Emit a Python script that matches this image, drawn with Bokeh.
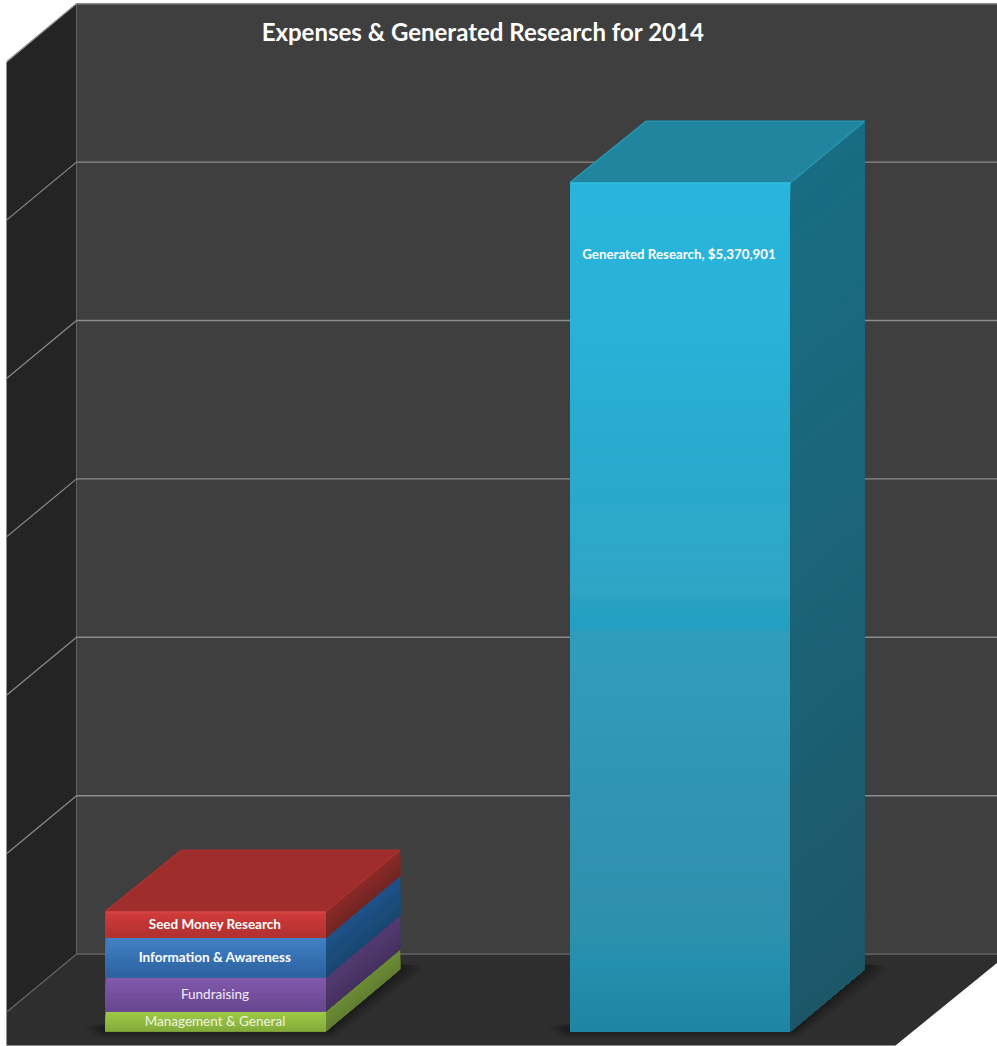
from bokeh.core.properties import value
from bokeh.embed import file_html
from bokeh.models import ColumnDataSource, Range1d
from bokeh.plotting import figure
from bokeh.resources import INLINE

# ---- chart data ----
TITLE = "Expenses & Generated Research for 2014"
EXPENSE_NAMES = ["Management & General", "Fundraising", "Information & Awareness", "Seed Money Research"]
EXPENSE_VALUES = [126500, 215000, 251000, 166500]
RESEARCH_NAME = "Generated Research"
RESEARCH_VALUE = 5370901
GRID_VALUES = [0, 1000000, 2000000, 3000000, 4000000, 5000000, 6000000]

# ---- page geometry and scales ----
W, H = 997, 1046
PX_PER_VALUE = 158.4e-6        # back wall scale
FLOOR_PX = 953.6               # screen row of value 0 on the back wall
FRONT_BASE_PX = 1030.8         # screen row of value 0 on the front plane
FRONT_PX_PER_VALUE = 849 / RESEARCH_VALUE
COL_PX = [215.25, 680]         # column centres on screen
COL_STEP = COL_PX[1] - COL_PX[0]
BAR_W_PX = 220.5
BACK_W_PX = 218.5
DEPTH_X_PX = 75.2
DEPTH_Y_PX = 62
WALL_L, WALL_R = 76, 997
SIDE_L = 6
SIDE_DROP = 58


def sx(px):
    return (px - COL_PX[0]) / COL_STEP


def sy(px):
    return (FLOOR_PX - px) / PX_PER_VALUE


def front_px(v):
    return FRONT_BASE_PX - v * FRONT_PX_PER_VALUE


def hex_rgb(c):
    return tuple(int(c[i:i + 2], 16) for i in (1, 3, 5))


def ramp(stops, t):
    for (a, ca), (b, cb) in zip(stops, stops[1:]):
        if t <= b:
            f = 0 if b == a else (t - a) / (b - a)
            ra, rb = hex_rgb(ca), hex_rgb(cb)
            return "#%02x%02x%02x" % tuple(round(x + (y - x) * f) for x, y in zip(ra, rb))
    return stops[-1][1]


p = figure(width=W, height=H, output_backend="svg", toolbar_location=None,
           x_range=Range1d(sx(0), sx(W)), y_range=Range1d(sy(H), sy(0)),
           min_border=0, background_fill_color="#ffffff", border_fill_color="#ffffff",
           outline_line_color=None)
p.axis.visible = False
p.grid.visible = False


def poly(points, color, alpha=1.0):
    p.patch([sx(a) for a, _ in points], [sy(b) for _, b in points],
            fill_color=color, fill_alpha=alpha, line_color=None)


def band(top_px, bot_px, left_top, right_top, left_bot, right_bot, stops, step=3):
    """Paint a four-sided face as stacked strips, top strip first, each running to the bottom."""
    xs, ys, cs = [], [], []
    n = max(1, int((bot_px[0] - top_px[0]) / step))
    for i in range(n):
        t = i / n
        yl = top_px[0] + (bot_px[0] - top_px[0]) * t
        yr = top_px[1] + (bot_px[1] - top_px[1]) * t
        xl = left_top + (left_bot - left_top) * t
        xr = right_top + (right_bot - right_top) * t
        xs.append([sx(xl), sx(xr), sx(right_bot), sx(left_bot)])
        ys.append([sy(yl), sy(yr), sy(bot_px[1]), sy(bot_px[0])])
        cs.append(ramp(stops, t))
    p.patches("xs", "ys", fill_color="colors", line_color=None,
              source=ColumnDataSource(dict(xs=xs, ys=ys, colors=cs)))


# ---- room: back wall, side wall, floor ----
poly([(WALL_L, 3), (WALL_R, 3), (WALL_R, FLOOR_PX), (WALL_L, FLOOR_PX)], "#3e3f3e")
poly([(SIDE_L, 62), (WALL_L, 3), (WALL_L, FLOOR_PX), (SIDE_L, 1012)], "#242424")
poly([(SIDE_L, 1012), (WALL_L, FLOOR_PX), (WALL_R, FLOOR_PX), (WALL_R, 962), (895, 1045), (SIDE_L, 1045)], "#2d2e2d")

# gridlines along the back wall and down the side wall
for v in GRID_VALUES:
    y = FLOOR_PX - v * PX_PER_VALUE
    col = "#6a6a6a" if v == 0 else "#8c8c8c"
    p.line([sx(WALL_L), sx(WALL_R)], [sy(y), sy(y)], line_color=col, line_width=1.4)
    p.line([sx(WALL_L), sx(SIDE_L)], [sy(y), sy(y + SIDE_DROP)], line_color=col, line_width=1.2)
p.line([sx(SIDE_L), sx(895)], [sy(1045.5), sy(1045.5)], line_color="#8a8a8a", line_width=1)


def floor_shadow(x0, x1):
    for d, a in [(18, 0.10), (14, 0.13), (10, 0.17), (6, 0.22), (2, 0.28)]:
        poly([(x0 - 4 - d, FRONT_BASE_PX - 4),
              (x0 - 2 - d * 0.4, FRONT_BASE_PX + d * 0.38),
              (x1 + 2 + d * 0.3, FRONT_BASE_PX + d * 0.38),
              (x1 + DEPTH_X_PX + 2 + d, FRONT_BASE_PX - DEPTH_Y_PX + d * 0.1),
              (x1 + DEPTH_X_PX + 2 + d, FRONT_BASE_PX - DEPTH_Y_PX - 5 + d * 0.1),
              (x1 + DEPTH_X_PX - 10, FRONT_BASE_PX - DEPTH_Y_PX - 5)], "#141414", a)


def block(center, lo, hi, front_stops, side_stops):
    """One stacked section: the front face plus the receding right-hand face."""
    x0, x1 = center - BAR_W_PX / 2, center + BAR_W_PX / 2
    y_hi, y_lo = front_px(hi), front_px(lo)
    band((y_hi, y_hi), (y_lo, y_lo), x0, x1, x0, x1, front_stops)
    xb = x1 + DEPTH_X_PX - 1
    band((y_hi, y_hi - DEPTH_Y_PX), (y_lo, y_lo - DEPTH_Y_PX), x1, xb, x1, xb, side_stops)


def top_face(center, v, color, edge, highlight):
    x0, x1 = center - BAR_W_PX / 2, center + BAR_W_PX / 2
    y = front_px(v)
    bl, br = x0 + DEPTH_X_PX + 0.5, x0 + DEPTH_X_PX + 0.5 + BACK_W_PX
    poly([(x0, y), (x1, y), (br, y - DEPTH_Y_PX + 1), (bl, y - DEPTH_Y_PX + 1)], color)
    p.line([sx(x0), sx(bl), sx(br), sx(x1)],
           [sy(y), sy(y - DEPTH_Y_PX + 1), sy(y - DEPTH_Y_PX + 1), sy(y)], line_color=edge, line_width=1.5)
    p.line([sx(x0), sx(x1)], [sy(y + 1), sy(y + 1)], line_color=highlight, line_width=2)


# ---- stacked expenses column ----
floor_shadow(COL_PX[0] - BAR_W_PX / 2, COL_PX[0] + BAR_W_PX / 2)
FACE_STOPS = [
    ([(0, "#9bc845"), (1, "#80a83a")], [(0, "#6c8c34"), (1, "#5f7c30")]),
    ([(0, "#8258ab"), (1, "#66458d")], [(0, "#523a70"), (1, "#453160")]),
    ([(0, "#3f80c5"), (1, "#2c5f9d")], [(0, "#1d5288"), (1, "#1a4670")]),
    ([(0, "#d03a3a"), (1, "#ae3030")], [(0, "#8a2a28"), (1, "#6f2423")]),
]
bottom = 0
for val, (front, side) in zip(EXPENSE_VALUES, FACE_STOPS):
    block(COL_PX[0], bottom, bottom + val, front, side)
    bottom += val
top_face(COL_PX[0], bottom, "#9e2d2b", "#a83130", "#d64343")

# ---- generated research column ----
floor_shadow(COL_PX[1] - BAR_W_PX / 2, COL_PX[1] + BAR_W_PX / 2)
block(COL_PX[1], 0, RESEARCH_VALUE,
      [(0, "#28b4dc"), (0.14, "#2ab3da"), (0.3, "#28abcf"), (0.44, "#2ea7c8"), (0.485, "#30a4c5"),
       (0.49, "#28a1c3"), (0.52, "#21a0c3"), (0.53, "#309dbd"), (0.72, "#3194b4"), (0.88, "#2e90ac"),
       (0.915, "#2490af"), (1, "#1f84a2")],
      [(0, "#186d83"), (0.5, "#1c6377"), (1, "#1c5768")])
top_face(COL_PX[1], RESEARCH_VALUE, "#22859f", "#2494b0", "#2fbbe0")

# ---- labels ----
FONT = value("Lato")


def label(x_px, y_px, text, size, style="bold", color="#ffffff"):
    p.text([sx(x_px)], [sy(y_px)], text=[text], text_font=FONT, text_font_size=size,
           text_font_style=style, text_color=color, text_align="center", text_baseline="middle")


label(482.5, 30.5, TITLE, "24px")
label(678.5, 253, f"{RESEARCH_NAME}, ${RESEARCH_VALUE:,}", "13.3px")
LABEL_ROWS = [1020, 993, 956, 923]
LABEL_STYLES = [("normal", "#eef4e0"), ("normal", "#f2ecf8"), ("bold", "#ffffff"), ("bold", "#ffffff")]
for name, row, (style, color) in zip(EXPENSE_NAMES, LABEL_ROWS, LABEL_STYLES):
    label(214.5, row, name, "13.5px", style, color)

open("out.html", "w").write(file_html(p, INLINE))
